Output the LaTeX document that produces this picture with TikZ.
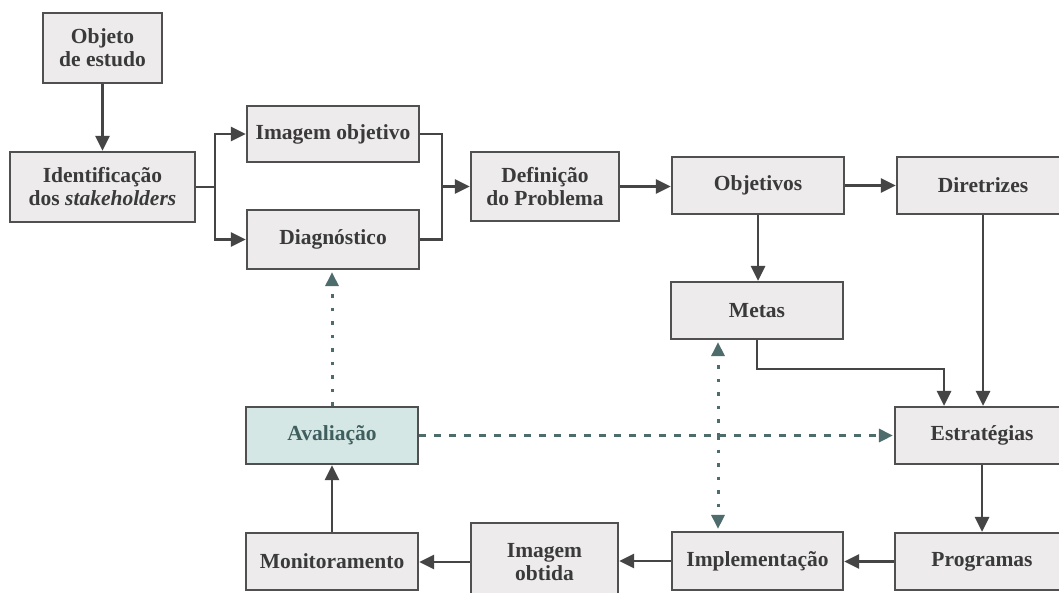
\documentclass[tikz,border=0pt]{standalone}
\usepackage{fontspec}
\setmainfont{Liberation Serif}
\usetikzlibrary{arrows.meta}
\definecolor{boxfill}{HTML}{EDEBEC}
\definecolor{boxdraw}{HTML}{505050}
\definecolor{txt}{HTML}{3A3A3A}
\definecolor{linec}{HTML}{454545}
\definecolor{evalfill}{HTML}{D4E7E5}
\definecolor{evaltxt}{HTML}{3F5F5F}
\definecolor{dotc}{HTML}{4E6C6C}
\begin{document}
\begin{tikzpicture}[x=1pt,y=-1pt,
  box/.style={draw=boxdraw, line width=2.2pt, fill=boxfill, text=txt,
    font=\fontsize{21.5}{23}\selectfont\bfseries, align=center, inner sep=0pt,
    minimum width=172pt, minimum height=57pt},
  plain/.style={draw=linec, line width=2.8pt},
  conn/.style={plain, -{Triangle[length=15pt,width=14pt]}},
  dotconn/.style={draw=dotc, line width=3pt, dash pattern=on 3.5pt off 10pt,
    -{Triangle[length=14pt,width=13pt]}, shorten >=2pt},
  dashconn/.style={draw=dotc, line width=3pt, dash pattern=on 7pt off 8pt,
    -{Triangle[length=14pt,width=13pt]}, shorten >=1pt}]
\useasboundingbox (0,0) rectangle (1059,592);
\fill[white] (0,0) rectangle (1059,592);
\clip (0,0) rectangle (1059,592);

% nodes
\node[box, minimum width=119pt, minimum height=70pt] (obj) at (102.5,48) {Objeto\\de estudo};
\node[box, minimum width=185pt, minimum height=70pt] (ident) at (102.5,187) {Identificação\\dos \textit{stakeholders}};
\node[box, minimum height=56pt] (imgobj) at (333,134) {Imagem objetivo};
\node[box, minimum height=59pt] (diag) at (333,239.5) {Diagnóstico};
\node[box, minimum width=148pt, minimum height=69pt] (defin) at (545,186.5) {Definição\\do Problema};
\node[box] (objet) at (758,185.5) {Objetivos};
\node[box] (diret) at (983,185.5) {Diretrizes};
\node[box] (metas) at (757,310.5) {Metas};
\node[box, minimum width=174pt] (estr) at (982,435.5) {Estratégias};
\node[box, minimum width=174pt] (prog) at (982,561.5) {Programas};
\node[box, minimum width=171pt, minimum height=58pt] (impl) at (757.5,561) {Implementação};
\node[box, minimum width=147pt, minimum height=78pt] (imgobt) at (544.5,562) {Imagem\\obtida};
\node[box] (monit) at (332,561.5) {Monitoramento};
\node[box, fill=evalfill, text=evaltxt] (aval) at (332,435.5) {Avaliação};

% solid connectors
\draw[conn] (obj.south) -- (ident.north);
\coordinate (f1) at (215,187);
\draw[plain] (ident.east) -- (f1);
\draw[conn] (f1) |- (imgobj.west);
\draw[conn] (f1) |- (diag.west);
\coordinate (f2) at (442,186.5);
\draw[plain] (imgobj.east) -| (f2) |- (diag.east);
\draw[conn] (f2) -- (defin.west);
\draw[conn] (defin.east) -- (defin.east -| objet.west);
\draw[conn] (objet.east) -- (diret.west);
\draw[conn] (objet.south) -- (objet.south |- metas.north);
\coordinate (m1) at (944,369);
\draw[conn] (metas.south) |- (m1) -- (m1 |- estr.north);
\draw[conn] (diret.south) -- (diret.south |- estr.north);
\draw[conn] (estr.south) -- (prog.north);
\draw[conn] (prog.west) -- (prog.west -| impl.east);
\draw[conn] (impl.west) -- (impl.west -| imgobt.east);
\draw[conn] (imgobt.west) -- (imgobt.west -| monit.east);
\draw[conn] (monit.north) -- (aval.south);

% dotted / dashed connectors
\draw[dotconn] (aval.north) -- (aval.north |- diag.south);
\coordinate (v1) at (718,436);
\draw[dotconn] (v1) -- (v1 |- metas.south);
\draw[dotconn] (v1) -- (v1 |- impl.north);
\draw[dashconn] (aval.east) -- (aval.east -| estr.west);
\end{tikzpicture}
\end{document}
